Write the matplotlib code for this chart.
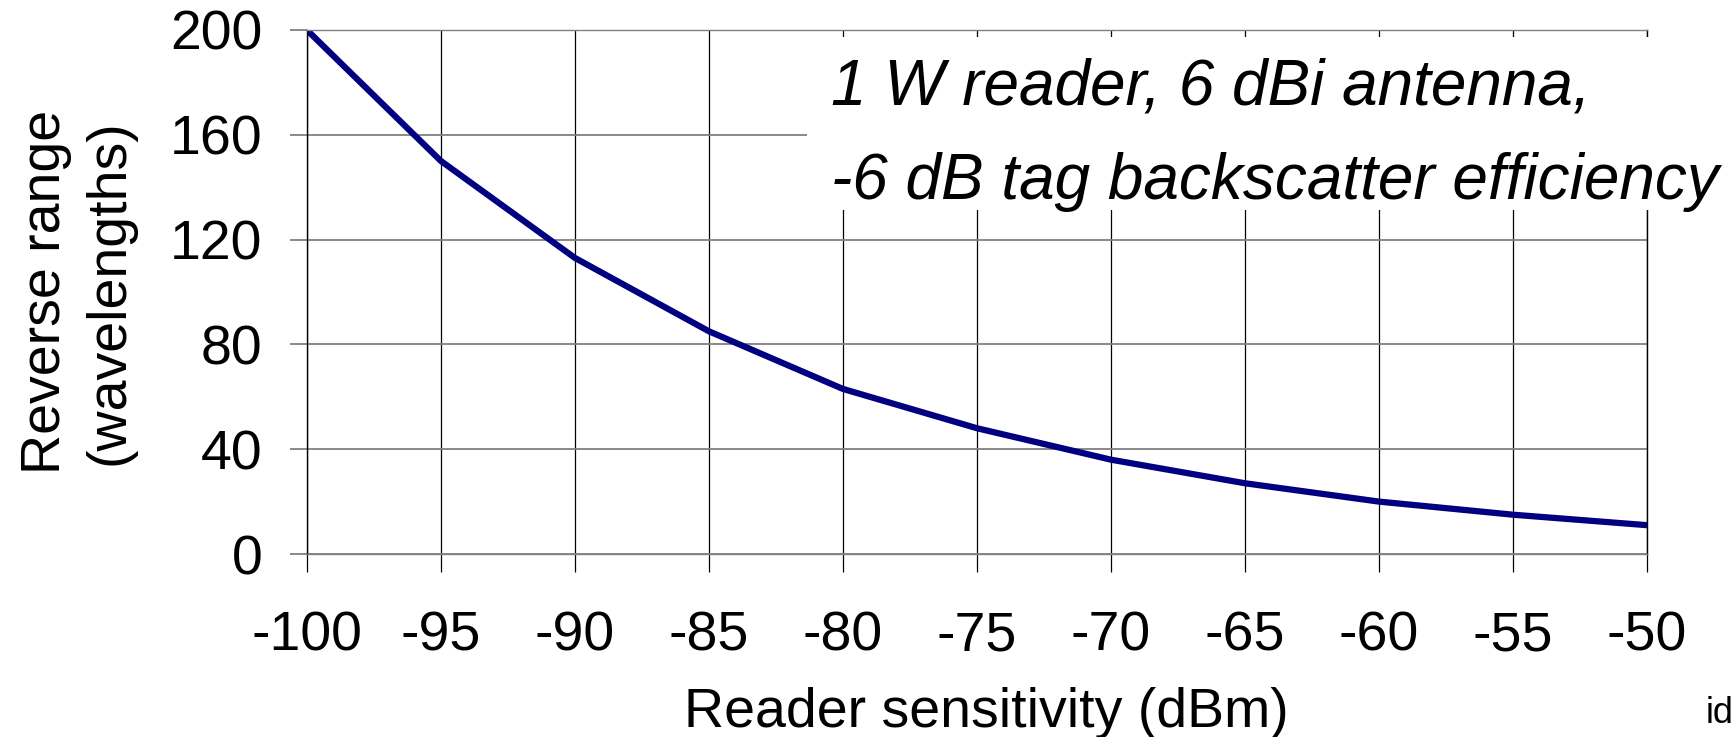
import numpy as np
import matplotlib
matplotlib.use('Agg')
import matplotlib.pyplot as plt
from matplotlib.patches import Rectangle

plt.rcParams['font.family'] = ['Liberation Sans', 'DejaVu Sans']
plt.rcParams['axes.unicode_minus'] = False

# reader sensitivity (dBm) vs reverse range (wavelengths)
sensitivity = [-100, -95, -90, -85, -80, -75, -70, -65, -60, -55, -50]
reverse_range = [200, 150, 113, 85, 63, 48, 36, 27, 20, 15, 11]

x_ticks = [-100, -95, -90, -85, -80, -75, -70, -65, -60, -55, -50]
y_ticks = [0, 40, 80, 120, 160, 200]

fig = plt.figure(figsize=(17.33, 7.37), dpi=100)
ax = fig.add_axes([0.1771, 0.2483, 0.7733, 0.7110])

ax.plot(sensitivity, reverse_range, color='#000080', linewidth=4.5, solid_capstyle='butt', zorder=2)

ax.set_xlim(-100, -50)
ax.set_ylim(0, 200)
ax.set_xticks(x_ticks)
ax.set_yticks(y_ticks)

# excel-like gridlines: black verticals, grey horizontals
ax.xaxis.grid(True, color='black', linewidth=0.9)
ax.yaxis.grid(True, color='#808080', linewidth=1.3)
ax.set_axisbelow(True)

ax.spines['left'].set_color('black')
ax.spines['right'].set_color('black')
ax.spines['top'].set_color('#808080')
ax.spines['bottom'].set_color('#808080')
for s in ax.spines.values():
    s.set_linewidth(1.0)

ax.tick_params(axis='x', direction='out', length=13, width=0.9, color='black',
               labelsize=40, pad=28)
ax.tick_params(axis='y', direction='out', length=12, width=1.3, color='#808080',
               labelsize=40, pad=20)

ax.set_xlabel('Reader sensitivity (dBm)', fontsize=40, labelpad=17)
ax.xaxis.label.set_x(0.507)
ax.set_ylabel('Reverse range\n(wavelengths)', fontsize=40, labelpad=25, linespacing=1.28)

# white panel behind the annotation hides the grid
ax.add_patch(Rectangle((0.373, 0.656), 0.75, 0.33, transform=ax.transAxes,
                       facecolor='white', edgecolor='none', clip_on=False, zorder=4))
ax.text(0.391, 0.80, '1 W reader, 6 dBi antenna,\n-6 dB tag backscatter efficiency',
        transform=ax.transAxes, fontsize=46, style='italic', ha='left', va='center',
        linespacing=1.74, clip_on=False, zorder=5)

fig.text(0.984, 0.019, 'id', fontsize=26, ha='left', va='baseline')

fig.savefig('out.png', dpi=100)
